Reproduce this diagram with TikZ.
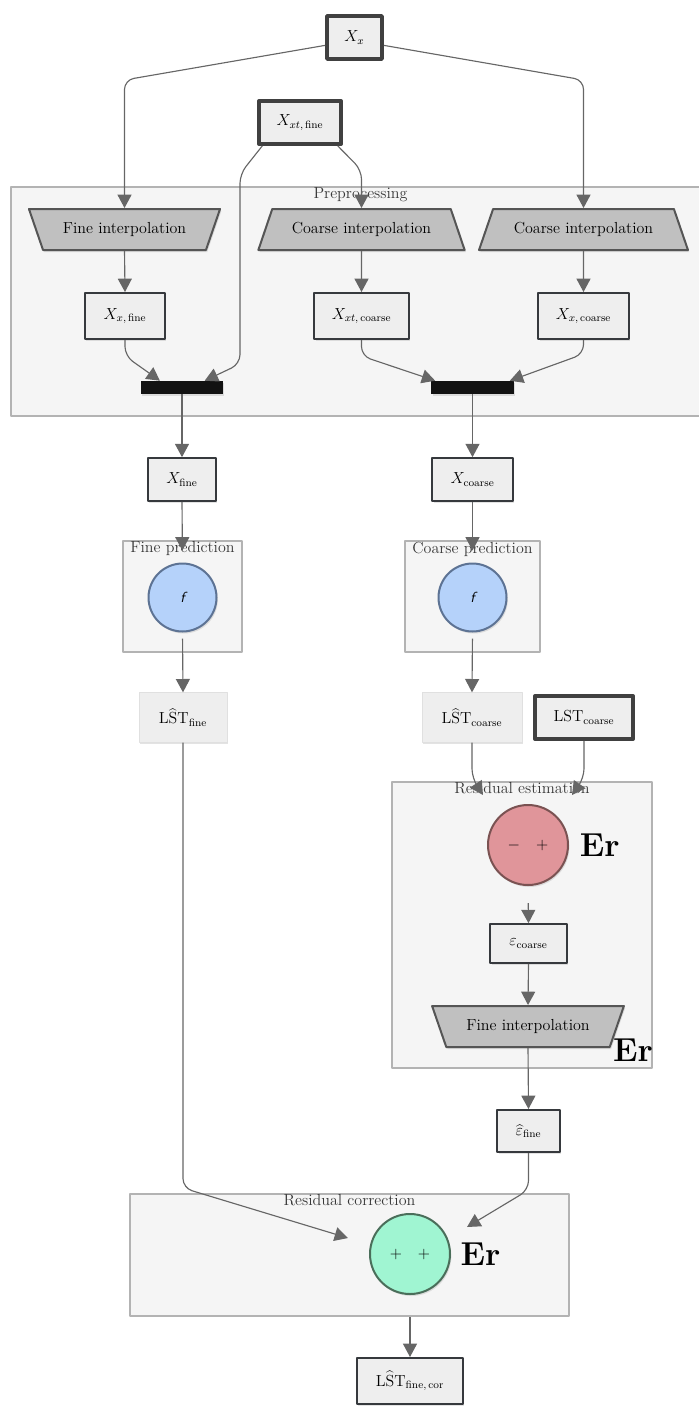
\documentclass[tikz,border=0pt,12pt]{standalone}
\usetikzlibrary{positioning,calc,shapes.geometric,arrows.meta,shadows}
\definecolor{edgegray}{HTML}{666666}
\definecolor{boxfill}{HTML}{EEEEEE}
\definecolor{boxline}{HTML}{36393D}
\definecolor{groupfill}{HTML}{F5F5F5}
\definecolor{groupline}{HTML}{B3B3B3}
\definecolor{trapfill}{HTML}{C0C0C0}
\definecolor{trapline}{HTML}{555555}
\definecolor{predfill}{HTML}{B5D2FA}
\definecolor{predline}{HTML}{5D7394}
\definecolor{errfill}{HTML}{E0959A}
\definecolor{errline}{HTML}{7A5252}
\definecolor{corrfill}{HTML}{A0F5D2}
\definecolor{corrline}{HTML}{4A6E5A}
\begin{document}
\begin{tikzpicture}[x=0.75pt,y=-0.75pt,line join=round,
		boxshadow/.style={drop shadow={shadow xshift=1pt,shadow yshift=-1.5pt,opacity=0.22}},
		edge/.style={draw=edgegray,line width=0.85pt,rounded corners=7pt,-{Triangle[length=10pt,width=10.5pt]}},
		var/.style={draw=boxline,fill=boxfill,line width=1.5pt,minimum height=34.5pt,boxshadow},
		input/.style={var,draw=black!75,line width=3pt,minimum height=32pt},
		est/.style={draw=black!12,fill=boxfill,line width=0.75pt,minimum height=37pt,boxshadow},
		interp/.style={trapezium,trapezium left angle=65,trapezium right angle=65,trapezium stretches=true,
			draw=trapline,fill=trapfill,line width=1.5pt,minimum height=30.75pt,boxshadow},
		joinbar/.style={fill=black!93,minimum height=9.75pt,inner sep=0pt,boxshadow},
		group/.style={draw=groupline,fill=groupfill,line width=1.5pt},
		grouplabel/.style={anchor=north,inner sep=1pt,text=black!78},
		op/.style={circle,line width=1.5pt,boxshadow},
		er/.style={font=\huge\bfseries,inner sep=0pt}]
	\useasboundingbox (0,0) rectangle (699,1407);

	\node[group,minimum width=524pt,minimum height=172pt] (prep) at (360.5,301.5) {};
	\node[group,minimum width=89pt,minimum height=83pt] (fpred) at (182.5,596.5) {};
	\node[group,minimum width=101pt,minimum height=83pt] (cpred) at (472.5,596.5) {};
	\node[group,minimum width=195pt,minimum height=214.5pt] (rest) at (522,925) {};
	\node[group,minimum width=329pt,minimum height=91.5pt] (rcorr) at (349.5,1255) {};
	\node[grouplabel] at (prep.north) {Preprocessing};
	\node[grouplabel] at (fpred.north) {Fine prediction};
	\node[grouplabel] at (cpred.north) {Coarse prediction};
	\node[grouplabel] at (rest.north) {Residual estimation};
	\node[grouplabel] at (rcorr.north) {Residual correction};

	\node[input,minimum width=41pt] (xx) at (354.5,37.5) {$X_x$};
	\node[input,minimum width=61.5pt] (xxtf) at (300,122.5) {$X_{xt,\,\mathrm{fine}}$};

	\node[interp,shape border rotate=180,minimum width=143.5pt] (fiA) at (124.5,229.5) {Fine interpolation};
	\node[interp,minimum width=155pt] (ciA) at (361.5,229.5) {Coarse interpolation};
	\node[interp,minimum width=157pt] (ciB) at (583.5,229.5) {Coarse interpolation};
	\node[var,minimum width=60pt] (xxf) at (125,316) {$X_{x,\,\mathrm{fine}}$};
	\node[var,minimum width=71pt] (xxtc) at (361.5,316) {$X_{xt,\,\mathrm{coarse}}$};
	\node[var,minimum width=68pt] (xxc) at (583.5,316) {$X_{x,\,\mathrm{coarse}}$};
	\node[joinbar,minimum width=61.5pt] (jf) at (182,387.5) {};
	\node[joinbar,minimum width=62pt] (jc) at (472.5,387.5) {};

	\node[var,minimum width=51pt,minimum height=32pt] (xf) at (182,479.5) {$X_{\mathrm{fine}}$};
	\node[var,minimum width=60.5pt,minimum height=32pt] (xc) at (472.5,479.5) {$X_{\mathrm{coarse}}$};
	\node[op,draw=predline,fill=predfill,minimum size=51pt] (ff) at (182.5,597.5) {\small\sffamily\itshape f};
	\node[op,draw=predline,fill=predfill,minimum size=51pt] (fc) at (472.5,597.5) {\small\sffamily\itshape f};
	\node[est,minimum width=66pt] (lstf) at (183,717.5) {$\mathrm{L\widehat{S}T}_{\mathrm{fine}}$};
	\node[est,minimum width=75pt] (lstc) at (472,717.5) {$\mathrm{L\widehat{S}T}_{\mathrm{coarse}}$};
	\node[input,minimum width=73.5pt] (lsto) at (584,717.5) {$\mathrm{LST}_{\mathrm{coarse}}$};

	\node[op,draw=errline,fill=errfill,minimum size=60pt] (diff) at (528,845) {$-\quad+$};
	\node[er,right=8pt of diff] (erA) {Er};
	\node[var,minimum width=57.5pt,minimum height=29pt] (ec) at (528.5,943.5) {$\varepsilon_{\mathrm{coarse}}$};
	\node[interp,shape border rotate=180,minimum width=144pt] (fiB) at (528,1026.5) {Fine interpolation};
	\node[er] (erB) at (633,1050) {Er};
	\node[var,minimum width=47pt,minimum height=31.5pt] (ef) at (528.5,1131) {$\widehat{\varepsilon}_{\mathrm{fine}}$};

	\node[op,draw=corrline,fill=corrfill,minimum size=60pt] (sum) at (410,1254) {$+\quad+$};
	\node[er,right=7pt of sum] (erC) {Er};
	\node[var,minimum width=79.5pt] (lstcor) at (410,1381) {$\mathrm{L\widehat{S}T}_{\mathrm{fine,\,cor}}$};

	\draw[edge] (xx.195) -- (fiA.north |- 0,80) -- (fiA.north);
	\draw[edge] (xx.-15) -- (ciB.north |- 0,80) -- (ciB.north);
	\draw[edge] ([xshift=4pt]xxtf.south west) -- (240,174) -- (240,364) -- ($(jf.north)+(17pt,0)$);
	\draw[edge] ([xshift=-4pt]xxtf.south east) -- (ciA.north |- 0,170) -- (ciA.north);
	\draw[edge] (fiA.south) -- (xxf.north);
	\draw[edge] (ciA.south) -- (xxtc.north);
	\draw[edge] (ciB.south) -- (xxc.north);
	\draw[edge] (xxf.south) -- (xxf.south |- 0,356) -- ($(jf.north)+(-16.5pt,0)$);
	\draw[edge] (xxtc.south) -- (xxtc.south |- 0,356) -- ($(jc.north)+(-28pt,0)$);
	\draw[edge] (xxc.south) -- (xxc.south |- 0,354) -- ($(jc.north)+(28pt,0)$);
	\draw[edge] (jf.south) -- (xf.north);
	\draw[edge] (jc.south) -- (xc.north);
	\draw[edge,shorten >=9pt] (xf.south) -- (ff.north);
	\draw[edge,shorten >=9pt] (xc.south) -- (fc.north);
	\draw[edge,shorten <=4.5pt] (ff.south) -- (lstf.north);
	\draw[edge,shorten <=4.5pt] (fc.south) -- (lstc.north);
	\draw[edge] (lstc.south) -- (lstc.south |- 0,778) -- ($(diff)+(-33.75pt,37.5pt)$);
	\draw[edge] (lsto.south) -- (lsto.south |- 0,778) -- ($(diff)+(33pt,37.5pt)$);
	\draw[edge,shorten <=12.75pt] (diff.south) -- (ec.north);
	\draw[edge] (ec.south) -- (fiB.north);
	\draw[edge] (fiB.south) -- (ef.north);
	\draw[edge] (lstf.south) -- (lstf.south |- 0,1188) -- ($(sum)+(-46.5pt,12pt)$);
	\draw[edge] (ef.south) -- (ef.south |- 0,1190) -- ($(sum)+(42.75pt,20.25pt)$);
	\draw[edge] (sum |- rcorr.south) -- (lstcor.north);
\end{tikzpicture}
\end{document}
